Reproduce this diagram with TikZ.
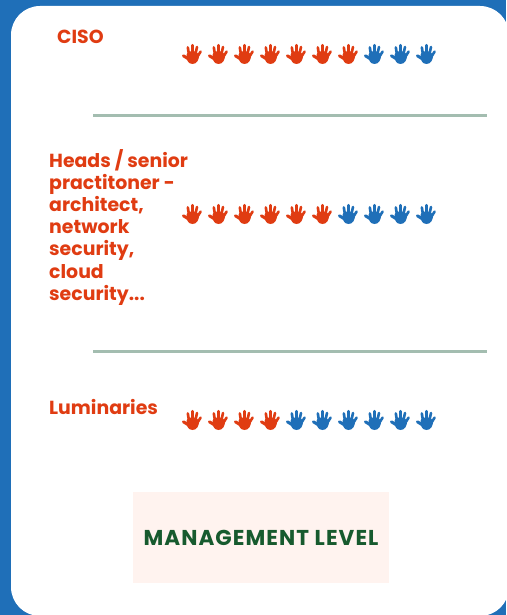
\documentclass[tikz,border=0pt]{standalone}
\usepackage{fontspec}
\setmainfont{Poppins}
\definecolor{cardblue}{HTML}{1F6FB8}
\definecolor{handred}{HTML}{E03C12}
\definecolor{rulegreen}{HTML}{A3BDB0}
\definecolor{boxpink}{HTML}{FFF3EF}
\definecolor{mgmtgreen}{HTML}{175A2E}
\tikzset{
  rolelabel/.style={anchor=north west,inner sep=0pt,align=left,text=handred,font=\fontsize{18.9}{22.2}\selectfont\bfseries},
  fingerline/.style={line width=2.6pt,line cap=round,line join=round},
  divider/.style={draw=rulegreen,line width=3pt},
  pics/hand/.style={code={
    \draw[fingerline,draw=#1,line width=3pt] (-1,6.5) -- (-8.6,1.8);
    \draw[fingerline,draw=#1] (-2.8,2) -- (-4.2,-6.6);
    \draw[fingerline,draw=#1] (0.5,2) -- (0.5,-8.8);
    \draw[fingerline,draw=#1] (3,2) -- (5,-7);
    \draw[fingerline,draw=#1] (4.6,4) -- (8.6,-2.4);
    \fill[#1] (-5.4,0.5) .. controls (-5.8,5) and (-4.4,10) .. (0.4,10)
       .. controls (5,10) and (6.8,6) .. (7.2,1) -- (4,-2.5) -- (-3.5,-2.5) -- cycle;
  }}
}
\begin{document}
\begin{tikzpicture}[x=1pt,y=-1pt]
\useasboundingbox (0,0) rectangle (506,615);
\clip (0,0) rectangle (506,615);
\fill[cardblue] (0,0) rectangle (506,615);
\fill[white,rounded corners=29pt] (11,6) rectangle (509,616);
\node[rolelabel] (ciso) at (57,30) {CISO};
\node[rolelabel] (heads) at (49,149) {Heads / senior\\practitoner -\\architect,\\network\\security,\\cloud\\security...};
\node[rolelabel] (lum) at (49,399.5) {Luminaries};
\coordinate (r1a) at (93,115.5); \coordinate (r1b) at (487,115.5);
\coordinate (r2a) at (93,351.5); \coordinate (r2b) at (487,351.5);
\draw[divider] (r1a) -- (r1b);
\draw[divider] (r2a) -- (r2b);
\foreach \i in {0,...,9}{
  \pgfmathtruncatemacro{\hx}{192+26*\i}
  \ifnum\i<7 \def\ca{handred}\else\def\ca{cardblue}\fi
  \ifnum\i<6 \def\cb{handred}\else\def\cb{cardblue}\fi
  \ifnum\i<4 \def\cc{handred}\else\def\cc{cardblue}\fi
  \pic at (\hx,54) {hand=\ca};
  \pic at (\hx,214) {hand=\cb};
  \pic at (\hx,420) {hand=\cc};
}
\node[fill=boxpink,minimum width=256pt,minimum height=91pt,inner sep=0pt,text=mgmtgreen,font=\fontsize{21.5}{24}\selectfont\bfseries\addfontfeature{LetterSpace=5}] (mgmt) at (261,537.5) {MANAGEMENT LEVEL};
\end{tikzpicture}
\end{document}
